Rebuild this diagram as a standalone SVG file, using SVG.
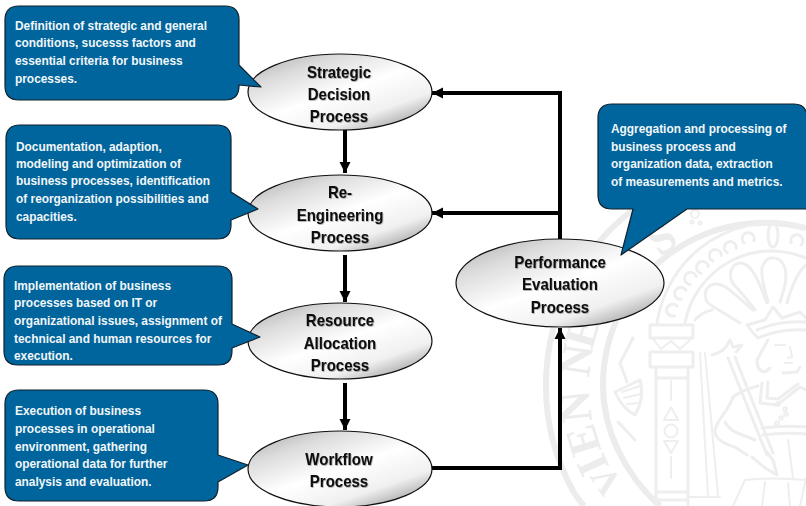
<svg xmlns="http://www.w3.org/2000/svg" width="806" height="506" viewBox="0 0 806 506">
<style>
.c{fill:#00659c;stroke:#10202c;stroke-width:1.2;stroke-linejoin:round}
.e{fill:url(#g);stroke:#111;stroke-width:1.2}
.t{font:bold 13px "Liberation Sans",Arial,sans-serif;fill:#f2f6f9}
.l{font:bold 16.5px "Liberation Sans",Arial,sans-serif;fill:#0a0a0a;text-anchor:middle;filter:url(#s)}
.k{fill:none;stroke:#000;stroke-width:4}
.b{fill:none;stroke:#ececec;stroke-width:6}
.w{fill:none;stroke:#eeeeee;stroke-width:3;stroke-linecap:round;stroke-linejoin:round}
.w2{fill:none;stroke:#eeeeee;stroke-width:2;stroke-linecap:round;stroke-linejoin:round}
.v{font:bold 44px "Liberation Serif",serif;fill:#ececec;text-anchor:middle}
</style>
<defs>
<linearGradient id="g" x1="0.08" y1="0" x2="0.92" y2="1">
<stop offset="0" stop-color="#b0b0b0"/><stop offset="0.22" stop-color="#dcdcdc"/><stop offset="0.5" stop-color="#fff"/><stop offset="0.75" stop-color="#f0f0f0"/><stop offset="1" stop-color="#8c8c8c"/>
</linearGradient>
<filter id="s" x="-10%" y="-20%" width="125%" height="150%"><feDropShadow dx="0.8" dy="0.8" stdDeviation="0.6" flood-color="#000" flood-opacity="0.35"/></filter>
<marker id="a" markerUnits="userSpaceOnUse" markerWidth="12" markerHeight="12" refX="11" refY="6" orient="auto"><path d="M0 0.5L11 6L0 11.5Z" fill="#000"/></marker>
<path id="sc" d="M4 -5A6 6 0 1 0 4 5"/>
</defs>
<g id="seal">
<path class="b" d="M806 169A220 220 0 0 0 573 491Q578 499 584 506"/>
<path class="b" d="M806 228A162 162 0 0 0 603 385C603 430 625 475 660 506"/>
<text class="v" style="font-size:36px" transform="translate(616 474) rotate(-124)">V</text>
<text class="v" transform="translate(606 459) rotate(-115)">I</text>
<text class="v" transform="translate(597 436) rotate(-107)">E</text>
<text class="v" transform="translate(590 405) rotate(-96)">N</text>
<text class="v" transform="translate(591 362) rotate(-82)">N</text>
<text class="v" transform="translate(596 336) rotate(-74)">E</text>
<text class="v" transform="translate(670 250) rotate(-35)">S</text>
<g class="w2"><circle cx="695" cy="214" r="4"/><circle cx="692" cy="222" r="1.5"/><circle cx="700" cy="223" r="1.5"/></g>
<path class="w" d="M650 325H693V338H650ZM650 352H693V367H650Z"/>
<path class="w2" d="M653 339L661 349L671 341L680 349L690 340"/>
<path class="w" d="M656 367V506M688 367V506M656 378H688M656 492H688M656 500H688"/>
<path class="w2" d="M671 381V400M671 407L678 420H664ZM664 441H678L671 453ZM671 457V478"/>
<circle class="w2" cx="671" cy="431" r="6.5"/>
<path class="w" d="M657 323A118 118 0 0 1 806 227"/>
<path class="w" d="M685 323A88 88 0 0 1 806 258"/>
<g class="w">
<use href="#sc" transform="translate(672 310) rotate(16)"/>
<use href="#sc" transform="translate(680 293) rotate(27)"/>
<use href="#sc" transform="translate(690 278) rotate(37)"/>
<use href="#sc" transform="translate(702 267) rotate(46)"/>
<use href="#sc" transform="translate(715 255) rotate(56)"/>
<use href="#sc" transform="translate(730 247) rotate(65)"/>
<use href="#sc" transform="translate(748 238) rotate(76)"/>
<use href="#sc" transform="translate(797 240) rotate(103)"/>
<ellipse cx="773" cy="235" rx="5" ry="12"/>
</g>
<path class="w" d="M753 310C735 295 725 283 715 284C703 286 702 300 712 306C722 312 732 318 740 323M695 320Q702 312 712 310"/>
<path class="w" d="M767 303C760 285 752 262 740 263C728 265 728 280 737 288C743 295 750 303 755 310"/>
<path class="w" d="M768 302C763 285 760 270 763 265C768 255 780 255 785 268C788 280 783 292 780 302M787 303C792 285 798 272 806 265"/>
<path class="w" d="M747 325L765 320L773 307L782 318L800 312L806 318M747 325Q752 332 758 338Q780 328 806 330M757 330Q780 320 806 322"/>
<path class="w" d="M768 340L757 360Q757 372 765 372L770 368M800 367L797 372L783 373"/>
<path class="w2" d="M775 345H785M790 347L792 357L788 358M785 363H792"/>
<path class="w" d="M712 355Q722 352 726 347L730 340L733 347L742 345L736 352M728 358L767 455M735 357L773 453"/>
<path class="w" d="M762 383L760 403L777 405L800 387L806 390M768 382L767 398L778 399L798 384M733 397Q742 390 758 386"/>
<g class="w2"><circle cx="778" cy="404" r="1.8"/><circle cx="785" cy="409" r="1.8"/><circle cx="786" cy="414" r="1.8"/><circle cx="781" cy="418" r="1.8"/><circle cx="777" cy="423" r="1.8"/></g>
<path class="w" d="M733 397C728 412 718 418 715 430C714 438 722 443 735 447L747 455M755 440L735 432Q728 428 725 422M752 457L765 468L777 475L773 460L765 450M762 428Q785 425 806 427M763 435Q785 432 806 434"/>
<path class="w2" d="M745 480L733 506M745 480Q770 477 806 480M765 482L762 506M788 440L793 478M788 483L790 506M806 478L800 506"/>
<path class="w2" d="M700 353L708 497M705 353L718 495M690 497H720"/>
<path class="w" d="M633 338L620 363L627 382M615 392L640 380Q645 398 635 415Q622 408 615 392ZM618 422L635 440"/>
<path class="w2" d="M622 392L640 386M624 398L641 394M627 404L640 403"/>
</g>
<g id="connectors">
<path class="k" marker-end="url(#a)" d="M345 130V173"/>
<path class="k" marker-end="url(#a)" d="M345 255V302"/>
<path class="k" marker-end="url(#a)" d="M345 383V430"/>
<path class="k" marker-end="url(#a)" d="M432 468H560V328"/>
<path class="k" marker-end="url(#a)" d="M560 240V93H432"/>
<path class="k" marker-end="url(#a)" d="M560 213H432"/>
</g>
<g id="node-strategic">
<ellipse class="e" cx="340" cy="92" rx="92" ry="38"/>
<text class="l" transform="translate(339 77.5) scale(.91 1)">Strategic</text><text class="l" transform="translate(339 99.5) scale(.91 1)">Decision</text><text class="l" transform="translate(339 121.5) scale(.91 1)">Process</text>
</g>
<g id="node-reengineering">
<ellipse class="e" cx="340" cy="213" rx="92" ry="38"/>
<text class="l" transform="translate(340 198) scale(.91 1)">Re-</text><text class="l" transform="translate(340 220.5) scale(.91 1)">Engineering</text><text class="l" transform="translate(340 242.5) scale(.91 1)">Process</text>
</g>
<g id="node-resource">
<ellipse class="e" cx="340" cy="341" rx="92" ry="38"/>
<text class="l" transform="translate(340 325.5) scale(.91 1)">Resource</text><text class="l" transform="translate(340 349) scale(.91 1)">Allocation</text><text class="l" transform="translate(340 371) scale(.91 1)">Process</text>
</g>
<g id="node-workflow">
<ellipse class="e" cx="340" cy="469" rx="92" ry="38"/>
<text class="l" transform="translate(339 465) scale(.91 1)">Workflow</text><text class="l" transform="translate(339 487) scale(.91 1)">Process</text>
</g>
<g id="node-performance">
<ellipse class="e" cx="560" cy="283" rx="104" ry="44"/>
<text class="l" transform="translate(560 268) scale(.91 1)">Performance</text><text class="l" transform="translate(560 290) scale(.91 1)">Evaluation</text><text class="l" transform="translate(560 312.5) scale(.91 1)">Process</text>
</g>
<g id="note-strategic">
<path class="c" d="M19 6H225Q239 6 239 20V65L261 87L239 85V86Q239 100 225 100H19Q5 100 5 86V20Q5 6 19 6Z"/>
<text class="t" transform="translate(15 0) scale(.915 1)"><tspan x="0" y="30">Definition of strategic and general</tspan><tspan x="0" y="47.5">conditions, sucesss factors and</tspan><tspan x="0" y="65">essential criteria for business</tspan><tspan x="0" y="83">processes.</tspan></text>
</g>
<g id="note-reengineering">
<path class="c" d="M20 125H217Q231 125 231 139V192L258 209L231 220V225Q231 239 217 239H20Q6 239 6 225V139Q6 125 20 125Z"/>
<text class="t" transform="translate(16 0) scale(.915 1)"><tspan x="0" y="151.5">Documentation, adaption,</tspan><tspan x="0" y="168.5">modeling and optimization of</tspan><tspan x="0" y="185.5">business processes, identification</tspan><tspan x="0" y="203.5">of reorganization possibilities and</tspan><tspan x="0" y="221.5">capacities.</tspan></text>
</g>
<g id="note-resource">
<path class="c" d="M18 266H218Q232 266 232 280V324L260 337L232 348V351Q232 365 218 365H18Q4 365 4 351V280Q4 266 18 266Z"/>
<text class="t" transform="translate(14 0) scale(.915 1)"><tspan x="0" y="290.5">Implementation of business</tspan><tspan x="0" y="307.5">processes based on IT or</tspan><tspan x="0" y="325.5">organizational issues, assignment of</tspan><tspan x="0" y="343.5">technical and human resources for</tspan><tspan x="0" y="360.5">execution.</tspan></text>
</g>
<g id="note-workflow">
<path class="c" d="M19 390H204Q218 390 218 404V455L248 465L218 482V487Q218 501 204 501H19Q5 501 5 487V404Q5 390 19 390Z"/>
<text class="t" transform="translate(15 0) scale(.915 1)"><tspan x="0" y="415.5">Execution of business</tspan><tspan x="0" y="433.5">processes in operational</tspan><tspan x="0" y="451">environment, gathering</tspan><tspan x="0" y="468.5">operational data for further</tspan><tspan x="0" y="486.5">analysis and evaluation.</tspan></text>
</g>
<g id="note-performance">
<path class="c" d="M612 104H794Q807 104 807 118V209H687L621 255L633 209H612Q598 209 598 195V118Q598 104 612 104Z"/>
<text class="t" transform="translate(611 0) scale(.915 1)"><tspan x="0" y="133.5">Aggregation and processing of</tspan><tspan x="0" y="151.5">business process and</tspan><tspan x="0" y="168.5">organization data, extraction</tspan><tspan x="0" y="186.5">of measurements and metrics.</tspan></text>
</g>
</svg>
